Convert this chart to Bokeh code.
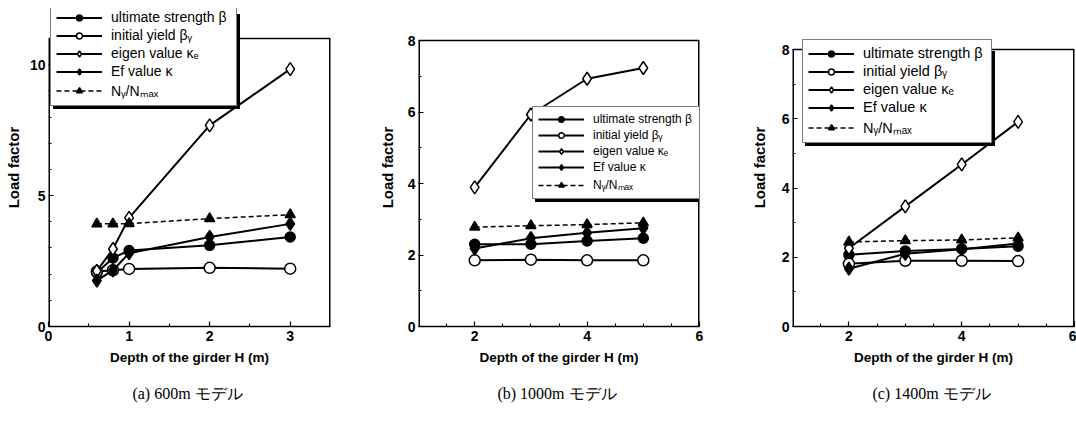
from bokeh.plotting import figure
from bokeh.layouts import row
from bokeh.models import Legend, LegendItem, FixedTicker, Title, Range1d
from bokeh.embed import file_html
from bokeh.resources import INLINE

# ---- data: load factor vs. girder depth H (m) ----
labels = ["ultimate strength β", "initial yield βᵧ", "eigen value κₑ",
          "Ef value κ", "Nᵧ/Nₘₐₓ"]

# (a) 600 m model
h_a = [0.6, 0.8, 1.0, 2.0, 3.0]
ult_a = [2.05, 2.62, 2.9, 3.1, 3.42]
yld_a = [2.1, 2.15, 2.2, 2.24, 2.21]
eig_a = [2.12, 2.96, 4.15, 7.68, 9.83]
ef_a = [1.75, 2.15, 2.8, 3.42, 3.92]
ny_a = [3.92, 3.92, 3.93, 4.12, 4.27]

# (b) 1000 m model
h_b = [2, 3, 4, 5]
ult_b = [2.3, 2.3, 2.39, 2.47]
yld_b = [1.85, 1.87, 1.85, 1.85]
eig_b = [3.89, 5.93, 6.93, 7.23]
ef_b = [2.18, 2.47, 2.62, 2.75]
ny_b = [2.78, 2.82, 2.85, 2.9]

# (c) 1400 m model
h_c = [2, 3, 4, 5]
ult_c = [2.07, 2.18, 2.24, 2.32]
yld_c = [1.81, 1.9, 1.9, 1.89]
eig_c = [2.26, 3.47, 4.68, 5.91]
ef_c = [1.67, 2.1, 2.23, 2.4]
ny_c = [2.44, 2.48, 2.5, 2.56]

captions = ["(a)  600m モデル", "(b)  1000m モデル", "(c)  1400m モデル"]

SANS = "Liberation Sans"
H = 423
TOP = 8          # frame starts near the top so a legend may rise above the box
FRAME_H = 318


def panel(h, ult, yld, eig, ef, ny, caption, xr, ymax, px_per_unit, xticks, xminor,
          yticks, yminor, bl, br, frame_w, leg_loc, leg_font, leg_row, leg_label_w,
          ylab_standoff):
    y_top = FRAME_H / px_per_unit
    p = figure(frame_width=frame_w, frame_height=FRAME_H, title_location=None,
               min_border_left=bl, min_border_right=br, min_border_top=TOP,
               min_border_bottom=H - TOP - FRAME_H,
               x_range=Range1d(*xr), y_range=Range1d(0, y_top),
               output_backend="svg", toolbar_location=None)
    p.grid.visible = False
    p.outline_line_color = None
    p.background_fill_color = "white"
    p.border_fill_color = "white"

    p.xaxis.ticker = FixedTicker(ticks=xticks, minor_ticks=xminor)
    p.yaxis.ticker = FixedTicker(ticks=yticks, minor_ticks=yminor)
    for ax in (p.xaxis, p.yaxis):
        ax.axis_line_width = 1.5
        ax.major_tick_in = 5
        ax.major_tick_out = 0
        ax.minor_tick_in = 3
        ax.minor_tick_out = 0
        ax.major_tick_line_width = 1.2
        ax.major_label_text_font = SANS
        ax.major_label_text_font_style = "bold"
        ax.major_label_text_font_size = "14px"
        ax.major_label_text_color = "black"
        ax.axis_label_text_font = SANS
        ax.axis_label_text_font_style = "bold"
        ax.axis_label_text_color = "black"
    p.yaxis.axis_line_color = None
    p.xaxis.axis_label = "Depth of the girder H (m)"
    p.yaxis.axis_label = "Load factor"
    p.xaxis.axis_label_text_font_size = "13.5px"
    p.yaxis.axis_label_text_font_size = "15px"
    p.xaxis.major_label_standoff = 4
    p.yaxis.major_label_standoff = 3
    p.xaxis.axis_label_standoff = 6
    p.yaxis.axis_label_standoff = ylab_standoff

    # plot box: left/right sides sit on the frame edge, top side at ymax
    p.segment(x0=[xr[0], xr[1]], y0=[0, 0], x1=[xr[0], xr[1]], y1=[ymax, ymax],
              line_color="black", line_width=3)
    p.segment(x0=[xr[0]], y0=[ymax], x1=[xr[1]], y1=[ymax],
              line_color="black", line_width=1.5)

    series = [
        (ult, "circle", "black", 10, None),
        (yld, "circle", "white", 11, None),
        (eig, "diamond", "white", 13, None),
        (ef, "diamond", "black", 13, None),
        (ny, "triangle", "black", 10, "5 3"),
    ]
    items = []
    blanks = []
    for (vals, marker, fill, size, dash), lab in zip(series, labels):
        if dash:
            ln = p.line(h, vals, line_color="black", line_width=1.5, line_dash=dash)
        else:
            ln = p.line(h, vals, line_color="black", line_width=2)
        sc = p.scatter(h, vals, marker=marker, size=size, fill_color=fill,
                       line_color="black", line_width=1.5)
        items.append(LegendItem(label=lab, renderers=[ln, sc]))
        d = p.line([], [], line_alpha=0)
        blanks.append(LegendItem(label=" ", renderers=[d]))

    common = dict(label_text_font=SANS, label_text_font_size=leg_font,
                  label_height=leg_row, glyph_height=leg_row, glyph_width=46,
                  label_width=leg_label_w, label_standoff=9, spacing=2,
                  padding=5, margin=0,
                  border_line_color="black", border_line_width=1.5)
    # drop shadow: an empty legend box of the same size, offset down-right
    shadow = Legend(items=blanks, location=(leg_loc[0] + 3, leg_loc[1] - 3),
                    background_fill_color="black", background_fill_alpha=1,
                    label_text_alpha=0, **common)
    leg = Legend(items=items, location=leg_loc, background_fill_color="white",
                 background_fill_alpha=1, label_text_color="black", **common)
    p.add_layout(shadow, "center")
    p.add_layout(leg, "center")

    p.add_layout(Title(text=caption, align="center", text_font="Liberation Serif",
                       text_font_size="16px", text_font_style="normal",
                       text_color="black", standoff=31), "below")
    return p


pa = panel(h_a, ult_a, yld_a, eig_a, ef_a, ny_a, captions[0],
           (0, 3.5), 11, 288 / 11, [0, 1, 2, 3], [0.5, 1.5, 2.5],
           [0, 5, 10], [1, 2, 3, 4, 6, 7, 8, 9],
           bl=48, br=35, frame_w=282,
           leg_loc=(2, 220), leg_font="14px", leg_row=15, leg_label_w=120,
           ylab_standoff=5)

pb = panel(h_b, ult_b, yld_b, eig_b, ef_b, ny_b, captions[1],
           (1, 6), 8, 286 / 8, [2, 4, 6], [1.5, 2.5, 3, 3.5, 4.5, 5, 5.5],
           [0, 2, 4, 6, 8], [1, 3, 5, 7],
           bl=53, br=31, frame_w=281,
           leg_loc=(114, 127), leg_font="12px", leg_row=14, leg_label_w=103,
           ylab_standoff=9)

pc = panel(h_c, ult_c, yld_c, eig_c, ef_c, ny_c, captions[2],
           (1, 6), 8, 277 / 8, [2, 4, 6], [1.5, 2.5, 3, 3.5, 4.5, 5, 5.5],
           [0, 2, 4, 6, 8], [1, 3, 5, 7],
           bl=62, br=2, frame_w=282,
           leg_loc=(10, 183), leg_font="14.5px", leg_row=15, leg_label_w=123,
           ylab_standoff=11)

layout = row(pa, pb, pc)
open("out.html", "w").write(file_html(layout, INLINE))
